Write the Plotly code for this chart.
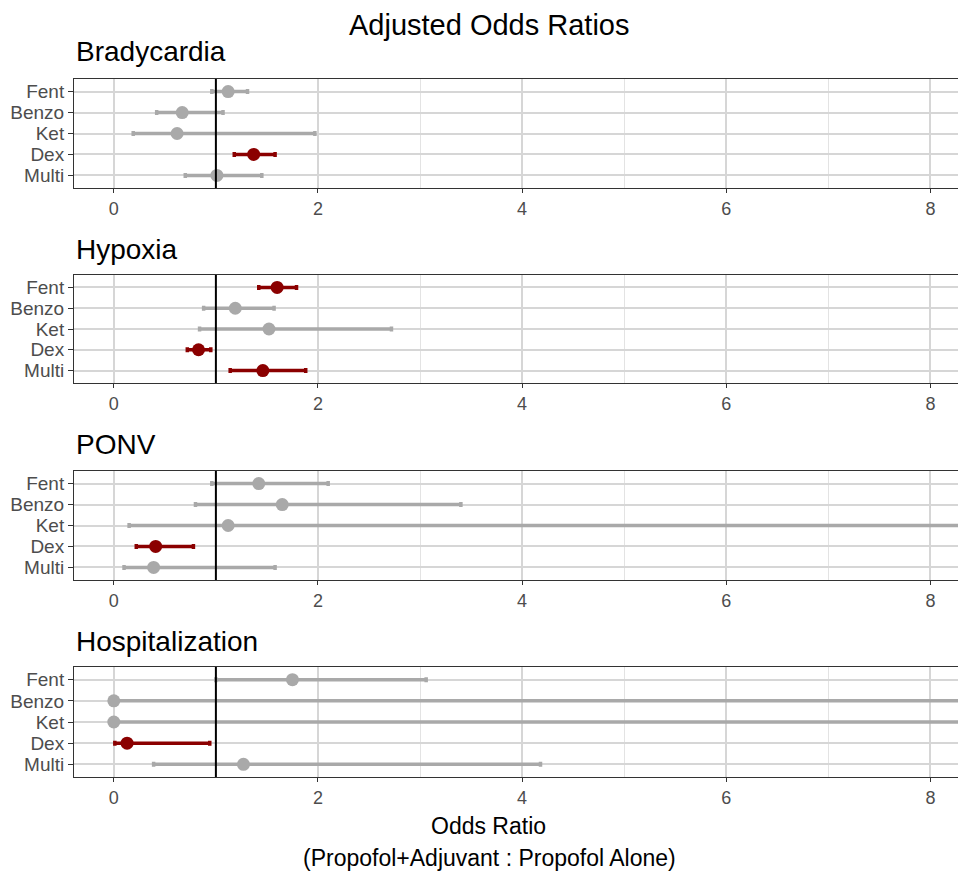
import plotly.graph_objects as go

# ---- data ----
categories = ["Fent", "Benzo", "Ket", "Dex", "Multi"]
outcomes = ["Bradycardia", "Hypoxia", "PONV", "Hospitalization"]

brady_or = [1.12, 0.67, 0.62, 1.37, 1.01]
brady_lo = [0.96, 0.42, 0.19, 1.18, 0.70]
brady_hi = [1.31, 1.07, 1.97, 1.58, 1.45]

hypox_or = [1.60, 1.19, 1.52, 0.83, 1.46]
hypox_lo = [1.42, 0.88, 0.84, 0.72, 1.14]
hypox_hi = [1.79, 1.57, 2.72, 0.95, 1.88]

ponv_or = [1.42, 1.65, 1.12, 0.41, 0.39]
ponv_lo = [0.96, 0.80, 0.15, 0.22, 0.10]
ponv_hi = [2.10, 3.40, 12.0, 0.78, 1.58]

hosp_or = [1.75, 0.00, 0.00, 0.13, 1.27]
hosp_lo = [1.00, 0.00, 0.00, 0.01, 0.39]
hosp_hi = [3.06, 60.0, 60.0, 0.94, 4.18]

x_ticks = [0, 2, 4, 6, 8]

data = [
    (brady_or, brady_lo, brady_hi),
    (hypox_or, hypox_lo, hypox_hi),
    (ponv_or, ponv_lo, ponv_hi),
    (hosp_or, hosp_lo, hosp_hi),
]

# ---- layout helpers ----
W, H = 958, 871
ML = 74
panels_px = [(79, 188), (275, 383), (471, 580), (667, 777)]
title_px = [52, 249, 445, 641]

def py(p):
    return 1 - p / H

def px(p):
    return (p - ML) / (W - ML)

GRAY = "#A9A9A9"
RED = "#8B0000"
FONT = "Liberation Sans, Arial, sans-serif"

fig = go.Figure()
layout = dict(
    width=W, height=H,
    margin=dict(l=ML, r=0, t=0, b=0),
    paper_bgcolor="white", plot_bgcolor="white",
    showlegend=False,
    font=dict(family=FONT, color="#4D4D4D"),
)

shapes = []
annotations = []

for i, (orv, lo, hi) in enumerate(data):
    n = i + 1
    xa = "x" if n == 1 else f"x{n}"
    ya = "y" if n == 1 else f"y{n}"
    for sig in (False, True):
        idx = [k for k in range(len(categories))
               if ((lo[k] > 1 or hi[k] < 1) == sig)]
        if not idx:
            continue
        col = RED if sig else GRAY
        fig.add_trace(go.Scatter(
            x=[orv[k] for k in idx],
            y=[categories[k] for k in idx],
            mode="markers",
            marker=dict(color=col, size=13),
            error_x=dict(
                type="data", symmetric=False,
                array=[hi[k] - orv[k] for k in idx],
                arrayminus=[orv[k] - lo[k] for k in idx],
                color=col, thickness=3.5, width=2.5,
            ),
            xaxis=xa, yaxis=ya, cliponaxis=True,
        ))
    top, bot = panels_px[i]
    key_x = "xaxis" if n == 1 else f"xaxis{n}"
    key_y = "yaxis" if n == 1 else f"yaxis{n}"
    layout[key_x] = dict(
        domain=[0, 1], anchor=ya, range=[-0.39, 8.27],
        tickvals=x_ticks, ticktext=[str(v) for v in x_ticks],
        showgrid=True, gridcolor="#D6D6D6", gridwidth=1.5,
        minor=dict(dtick=1, tick0=0, showgrid=True, gridcolor="#E3E3E3", gridwidth=1),
        zeroline=False,
        showline=True, linecolor="#333333", linewidth=1, mirror=True,
        ticks="outside", ticklen=4, tickcolor="#333333", tickwidth=1,
        tickfont=dict(size=18, color="#4D4D4D", family=FONT),
        automargin=False,
    )
    layout[key_y] = dict(
        domain=[py(bot), py(top)], anchor=xa,
        type="category", categoryorder="array",
        categoryarray=categories[::-1], range=[-0.6, 4.6],
        tickmode="array", tickvals=categories, ticktext=categories,
        showgrid=True, gridcolor="#D6D6D6", gridwidth=1.5,
        zeroline=False,
        showline=True, linecolor="#333333", linewidth=1, mirror=False,
        ticks="outside", ticklen=5, tickcolor="#333333", tickwidth=1,
        tickfont=dict(size=19, color="#4D4D4D", family=FONT),
        automargin=False,
    )
    shapes.append(dict(
        type="line", xref=xa, yref=f"{ya} domain",
        x0=1, x1=1, y0=0, y1=1,
        line=dict(color="black", width=2), layer="above",
    ))
    annotations.append(dict(
        text=outcomes[i], xref="paper", yref="paper",
        x=0, y=py(title_px[i]), xanchor="left", yanchor="middle",
        showarrow=False, font=dict(size=28, color="black", family=FONT),
    ))

annotations += [
    dict(text="Adjusted Odds Ratios", xref="paper", yref="paper",
         x=px(489), y=py(25), xanchor="center", yanchor="middle",
         showarrow=False, font=dict(size=29, color="black", family=FONT)),
    dict(text="Odds Ratio", xref="paper", yref="paper",
         x=px(488), y=py(826), xanchor="center", yanchor="middle",
         showarrow=False, font=dict(size=23, color="black", family=FONT)),
    dict(text="(Propofol+Adjuvant : Propofol Alone)", xref="paper", yref="paper",
         x=px(489), y=py(858), xanchor="center", yanchor="middle",
         showarrow=False, font=dict(size=23, color="black", family=FONT)),
]

layout["shapes"] = shapes
layout["annotations"] = annotations
fig.update_layout(**layout)
fig.write_html(
    "out.html",
    config={"displayModeBar": False},
    post_script="document.body.style.margin='0';document.body.style.overflow='hidden';",
)
